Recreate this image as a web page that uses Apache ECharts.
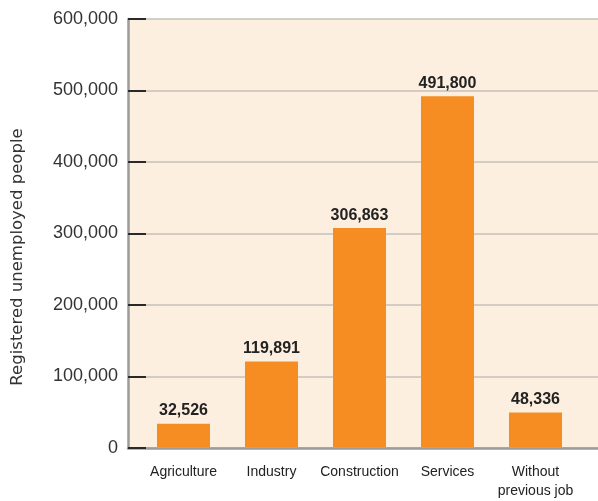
<!DOCTYPE html>
<html>
<head>
<meta charset="utf-8">
<script src="https://cdn.jsdelivr.net/npm/echarts@6/dist/echarts.min.js"></script>
<style>html,body{margin:0;padding:0;background:#fff}#c{width:598px;height:501px}</style>
</head>
<body>
<div id="c"></div>
<script>
var categories = ['Agriculture', 'Industry', 'Construction', 'Services', 'Without\nprevious job'];
var values = [32526, 119891, 306863, 491800, 48336];
var yTicks = [0, 100000, 200000, 300000, 400000, 500000, 600000];
var yName = 'Registered unemployed people';

function fmt(v) { return String(v).replace(/\B(?=(\d{3})+(?!\d))/g, ','); }

var chart = echarts.init(document.getElementById('c'), null, {renderer: 'canvas'});
var font = 'Liberation Sans, Arial, sans-serif';
chart.setOption({
  animation: false,
  backgroundColor: '#ffffff',
  grid: [
    {left: 128, right: 0, top: 19, height: 429, show: true, backgroundColor: '#fdefdf', borderWidth: 0},
    {left: 139.5, width: 440, top: 19, height: 429}
  ],
  xAxis: [
    {gridIndex: 0, type: 'value', min: 0, max: 1,
     axisLine: {show: true, onZero: false, lineStyle: {color: '#9b9b9b', width: 2.5}},
     axisTick: {show: false}, axisLabel: {show: false}, splitLine: {show: false}},
    {gridIndex: 1, type: 'category', data: categories,
     axisLine: {show: false}, axisTick: {show: false}, splitLine: {show: false},
     axisLabel: {color: '#222', fontSize: 14, fontFamily: font, margin: 16, lineHeight: 19, interval: 0}}
  ],
  yAxis: [
    {gridIndex: 0, type: 'value', min: 0, max: 600000, interval: 100000,
     axisLine: {show: true, lineStyle: {color: '#9b9b9b', width: 2.5}},
     axisTick: {show: true, inside: true, length: 18, lineStyle: {color: '#2a2a2a', width: 2}},
     splitLine: {show: true, lineStyle: {color: '#c6c0b9', width: 1.5}},
     axisLabel: {color: '#333', fontSize: 18, fontFamily: font, margin: 10, formatter: function (v) { return fmt(v); }}},
    {gridIndex: 1, type: 'value', min: 0, max: 600000, show: false}
  ],
  graphic: [{
    type: 'text', rotation: Math.PI / 2, x: 18, y: 257,
    style: {text: yName, fill: '#333', font: '16.5px DejaVu Sans, sans-serif', textAlign: 'center', textVerticalAlign: 'middle'}
  }],
  series: [{
    type: 'bar', xAxisIndex: 1, yAxisIndex: 1, data: values, barWidth: 53,
    itemStyle: {color: '#f58d22'},
    label: {show: true, position: 'top', distance: 5, color: '#222', fontWeight: 'bold', fontSize: 16, fontFamily: font,
            formatter: function (p) { return fmt(p.value); }}
  }]
});
</script>
</body>
</html>
